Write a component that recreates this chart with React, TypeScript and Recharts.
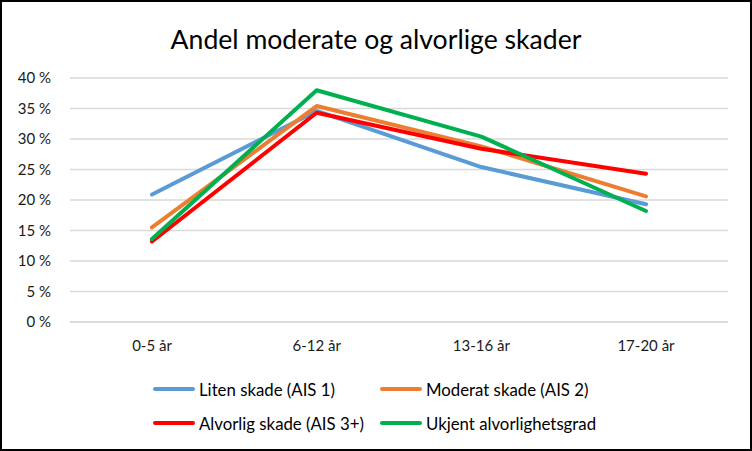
import React from "react";
import { LineChart, Line, XAxis, YAxis, CartesianGrid } from "recharts";

const categories = ["0-5 år", "6-12 år", "13-16 år", "17-20 år"];
const seriesNames = [
  "Liten skade (AIS 1)",
  "Moderat skade (AIS 2)",
  "Alvorlig skade (AIS 3+)",
  "Ukjent alvorlighetsgrad",
];
const seriesColors = ["#5B9BD5", "#ED7D31", "#FF0000", "#00B050"];
const liten = [20.9, 34.6, 25.4, 19.3];
const moderat = [15.5, 35.4, 28.8, 20.6];
const alvorlig = [13.2, 34.3, 28.4, 24.3];
const ukjent = [13.6, 38.0, 30.4, 18.2];
const yTicks = [0, 5, 10, 15, 20, 25, 30, 35, 40];
const title = "Andel moderate og alvorlige skader";

const seriesValues = [liten, moderat, alvorlig, ukjent];
const keys = ["s0", "s1", "s2", "s3"];
const data = categories.map((c, i) => {
  const row: Record<string, string | number> = { cat: c };
  keys.forEach((k, j) => (row[k] = seriesValues[j][i]));
  return row;
});

const FONT = "Lato, 'Open Sans', sans-serif";

export default function App() {
  return (
    <div
      style={{
        position: "fixed",
        left: 0,
        top: 0,
        width: 752,
        height: 451,
        boxSizing: "border-box",
        border: "2px solid #000",
        background: "#fff",
        fontFamily: FONT,
      }}
    >
      <div
        style={{
          position: "absolute",
          left: 0,
          width: 748,
          top: 20,
          textAlign: "center",
          fontSize: 26.6,
          color: "#000",
          lineHeight: "34px",
        }}
      >
        {title}
      </div>
      <LineChart
        width={748}
        height={447}
        data={data}
        margin={{ top: 76, right: 22, bottom: 97, left: 0 }}
      >
        <CartesianGrid vertical={false} stroke="#d9d9d9" strokeWidth={1.3} />
        <XAxis
          dataKey="cat"
          padding={{ left: 82, right: 82 }}
          tickLine={false}
          tickSize={0}
          tickMargin={18}
          height={30}
          axisLine={{ stroke: "#d9d9d9", strokeWidth: 1.3 }}
          tick={{ fill: "#1a1a1a", fontSize: 15, fontFamily: FONT }}
        />
        <YAxis
          width={68}
          domain={[0, 40]}
          ticks={yTicks}
          interval={0}
          axisLine={false}
          tickLine={false}
          tickSize={0}
          tickMargin={19}
          tickFormatter={(v: number) => `${v} %`}
          tick={{ fill: "#1a1a1a", fontSize: 15, fontFamily: FONT }}
        />
        {keys.map((k, j) => (
          <Line
            key={k}
            dataKey={k}
            name={seriesNames[j]}
            stroke={seriesColors[j]}
            strokeWidth={4}
            strokeLinecap="round"
            strokeLinejoin="round"
            dot={false}
            activeDot={false}
            isAnimationActive={false}
          />
        ))}
      </LineChart>
      {seriesNames.map((n, j) => {
        const col = j % 2;
        const row = Math.floor(j / 2);
        const left = col === 0 ? 151 : 378;
        const top = row === 0 ? 375 : 409;
        return (
          <div
            key={n}
            style={{
              position: "absolute",
              left,
              top,
              height: 24,
              display: "flex",
              alignItems: "center",
              fontSize: 16.8,
              color: "#000",
              whiteSpace: "nowrap",
            }}
          >
            <span
              style={{
                display: "inline-block",
                width: 42,
                height: 4.5,
                borderRadius: 2.25,
                background: seriesColors[j],
                marginRight: 4,
              }}
            />
            {n}
          </div>
        );
      })}
    </div>
  );
}
